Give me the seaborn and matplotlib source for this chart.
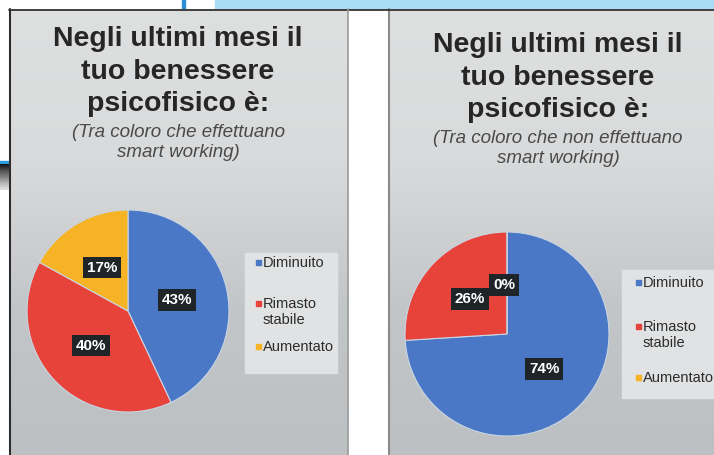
import numpy as np
import matplotlib.pyplot as plt
import seaborn as sns
from matplotlib.patches import Rectangle
from matplotlib.colors import LinearSegmentedColormap

# data
categorie = ['Diminuito', 'Rimasto\nstabile', 'Aumentato']
smart_working = [43, 40, 17]
no_smart_working = [74, 26, 0]
colori = ['#4a78c6', '#e8433a', '#f5b325']

titolo = 'Negli ultimi mesi il\ntuo benessere\npsicofisico è:'
sottotitoli = ['(Tra coloro che effettuano\nsmart working)',
               '(Tra coloro che non effettuano\nsmart working)']

sns.set_theme(style='white')
plt.rcParams['font.family'] = ['Liberation Sans', 'DejaVu Sans']

W, H = 714, 455
fig = plt.figure(figsize=(W / 100, H / 100), dpi=100)
fig.patch.set_facecolor('white')


def px(x0, y0, w, h):
    # pixel box (top-left origin) -> figure fraction rect
    return [x0 / W, 1 - (y0 + h) / H, w / W, h / H]


# decorative scan bits on top / left
deco = fig.add_axes([0, 0, 1, 1], zorder=0)
deco.axis('off')
deco.add_patch(Rectangle((215, 0), W - 215, 9, color='#a9dcf4'))
deco.add_patch(Rectangle((182, 0), 2.5, 9, color='#2a8fd8'))
deco.add_patch(Rectangle((0, 161), 9, 3, color='#2a9ce0'))
grad = np.linspace(0, 1, 30)[:, None]
deco.imshow(grad, extent=(0, 9, 190, 164), cmap='Greys_r', vmin=-0.1, vmax=1.3,
            aspect='auto', zorder=1)

# grey gradient panels
pannelli = [(9, 9, 339, H - 9), (388, 9, W - 388, H - 9)]
vert = np.linspace(0, 1, 200)[:, None]
cmap_bg = LinearSegmentedColormap.from_list('bg', ['#dedfdf', '#d9dadb', '#c3c6c9', '#bcc0c3'])
for (x0, y0, w, h) in pannelli:
    deco.imshow(vert, extent=(x0, x0 + w, y0 + h, y0), cmap=cmap_bg, aspect='auto', zorder=1)
    deco.plot([x0 + 0.5, x0 + 0.5], [y0, H], color='#8a8a8a', lw=1.5, zorder=2)
deco.plot([9.5, 9.5], [9, H], color='#222222', lw=1.3, zorder=3)
deco.plot([9, W], [9.5, 9.5], color='#333333', lw=1.3, zorder=3)
deco.plot([347.5, 347.5], [9, H], color='#9a9a9a', lw=1.2, zorder=3)
deco.set_xlim(0, W)
deco.set_ylim(H, 0)

# titles
cx_titoli = [178, 558]
y_titoli = [0, 6]
for cx, yt, sub in zip(cx_titoli, y_titoli, sottotitoli):
    fig.text(cx / W, 1 - (yt + 26) / H, titolo, ha='center', va='top',
             fontsize=20.5, fontweight='bold', color='#262626', linespacing=1.33)
    fig.text(cx / W, 1 - (yt + 124) / H, sub, ha='center', va='top',
             fontsize=13.5, style='italic', color='#4a4a4a', linespacing=1.25)

# pies
centri = [(128, 311, 101), (507, 334, 102)]
serie = [smart_working, no_smart_working]
for (cx, cy, r), vals in zip(centri, serie):
    ax = fig.add_axes(px(cx - r, cy - r, 2 * r, 2 * r), zorder=2)
    ax.patch.set_alpha(0)
    wedges, _, autot = ax.pie(vals, colors=colori, startangle=90, counterclock=False,
                              autopct='%d%%', pctdistance=0.5,
                              wedgeprops=dict(edgecolor='#c9d6e3', linewidth=0.8),
                              textprops=dict(color='white', fontweight='bold', fontsize=11))
    ax.set_xlim(-1, 1)
    ax.set_ylim(-1, 1)
    for t in autot:
        t.set_bbox(dict(boxstyle='square,pad=0.25', facecolor='#1f2428', edgecolor='none'))
    if vals[-1] == 0:
        x, y = autot[-1].get_position()
        autot[-1].set_position((x - 0.03, y - 0.02))

# legends (manual, Excel-like spacing)
legende = [
    dict(box=(245, 253, 92, 120), x=256, ys=[263, 312, 347]),
    dict(box=(622, 270, 92, 128), x=636, ys=[283, 335, 378]),
]
for leg in legende:
    bx, by, bw, bh = leg['box']
    deco.add_patch(Rectangle((bx, by), bw, bh, color='#e1e2e3', zorder=4))
    for cat, col, y in zip(categorie, colori, leg['ys']):
        first_y = y - 8 if '\n' in cat else y
        deco.add_patch(Rectangle((leg['x'], first_y - 3), 5, 5, color=col, zorder=5))
        deco.text(leg['x'] + 6.5, y, cat, ha='left', va='center', fontsize=10.5,
                  color='#2b2b2b', linespacing=1.2, zorder=5)

plt.savefig('out.png', dpi=100)
